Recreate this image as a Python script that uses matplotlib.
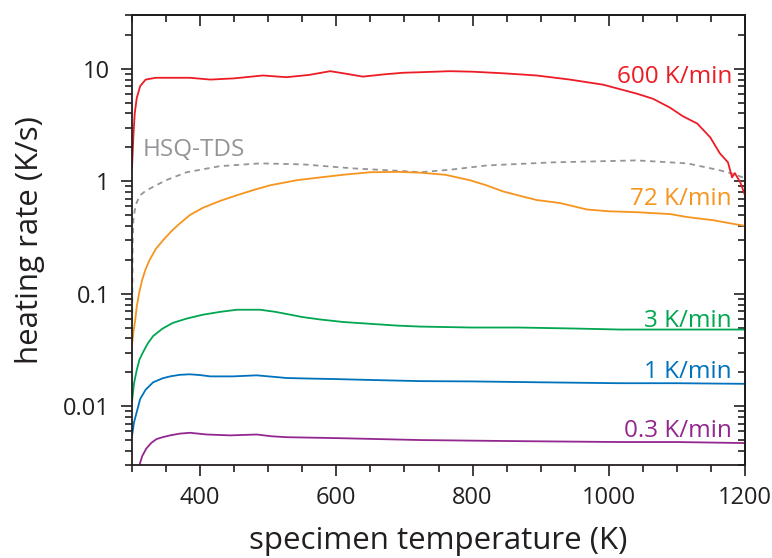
import matplotlib
matplotlib.use("Agg")
import matplotlib.pyplot as plt
from matplotlib.ticker import LogLocator, NullFormatter, FixedLocator

plt.rcParams['font.family'] = ['Open Sans', 'DejaVu Sans']

# ---- data ----
red_T = [300, 302, 304, 307, 312, 320, 335, 350, 385, 415, 450, 492, 527, 560, 591, 615, 639, 670, 698, 723,
         767, 800, 845, 894, 943, 992, 1041, 1065, 1090, 1109, 1130, 1149, 1163, 1175, 1181, 1185, 1193, 1200]
red_V = [1.3, 2.5, 4.0, 5.5, 7.0, 8.0, 8.3, 8.3, 8.3, 8.0, 8.2, 8.7, 8.4, 8.8, 9.5, 9.0, 8.5, 8.9, 9.2, 9.3,
         9.5, 9.4, 9.1, 8.7, 8.0, 7.2, 6.0, 5.4, 4.5, 3.77, 3.25, 2.45, 1.77, 1.47, 1.08, 1.18, 0.98, 0.75]

gray_T = [300, 300.5, 301, 302, 304, 307, 312, 320, 331, 350, 380, 429, 488, 551, 624, 698, 723, 770, 821,
          918, 1041, 1115, 1163, 1185, 1200]
gray_V = [0.03, 0.1, 0.3, 0.45, 0.55, 0.65, 0.75, 0.82, 0.89, 1.02, 1.2, 1.36, 1.44, 1.41, 1.30, 1.23, 1.2,
          1.27, 1.38, 1.47, 1.53, 1.44, 1.25, 1.15, 1.06]

orange_T = [300, 302, 305, 307, 311, 315, 320, 326, 335, 346, 358, 370, 385, 404, 430, 454, 480, 503, 542,
            576, 610, 649, 690, 723, 760, 796, 820, 845, 870, 894, 928, 968, 1000, 1041, 1090, 1115, 1153, 1200]
orange_V = [0.035, 0.045, 0.06, 0.077, 0.105, 0.133, 0.165, 0.2, 0.25, 0.30, 0.36, 0.42, 0.50, 0.58, 0.67,
            0.75, 0.84, 0.92, 1.02, 1.08, 1.14, 1.2, 1.21, 1.19, 1.14, 1.02, 0.92, 0.81, 0.74, 0.68, 0.64,
            0.56, 0.54, 0.53, 0.51, 0.48, 0.45, 0.40]

green_T = [300, 303, 307, 311, 316, 323, 331, 345, 360, 380, 404, 430, 454, 488, 510, 527, 550, 576, 610,
           649, 690, 723, 800, 870, 950, 1016, 1100, 1200]
green_V = [0.011, 0.016, 0.021, 0.026, 0.030, 0.036, 0.042, 0.049, 0.055, 0.060, 0.065, 0.069, 0.072,
           0.072, 0.069, 0.066, 0.062, 0.059, 0.056, 0.054, 0.052, 0.051, 0.050, 0.050, 0.049, 0.048,
           0.048, 0.048]

blue_T = [300, 303, 307, 312, 320, 331, 345, 356, 370, 385, 400, 415, 448, 483, 505, 527, 560, 601, 650,
          723, 800, 900, 1016, 1100, 1200]
blue_V = [0.0054, 0.0072, 0.0089, 0.0116, 0.0140, 0.0163, 0.0177, 0.0184, 0.0190, 0.0192, 0.0189,
          0.0184, 0.0184, 0.0188, 0.0183, 0.0178, 0.0176, 0.0174, 0.0171, 0.0167, 0.0166, 0.0163,
          0.0160, 0.0160, 0.0158]

purple_T = [311, 315, 321, 328, 336, 345, 356, 370, 385, 410, 444, 483, 505, 527, 601, 723, 850, 1016,
            1100, 1200]
purple_V = [0.003, 0.0036, 0.0042, 0.0047, 0.0051, 0.0053, 0.0055, 0.0057, 0.0058, 0.0056, 0.0055,
            0.0056, 0.0054, 0.0053, 0.0052, 0.0050, 0.0049, 0.0048, 0.0048, 0.0047]

labels = ["600 K/min", "72 K/min", "3 K/min", "1 K/min", "0.3 K/min"]
label_V = [7.52, 0.613, 0.051, 0.0177, 0.00532]
label_T = 1181
hsq_label = "HSQ-TDS"

x_ticks = [400, 600, 800, 1000, 1200]
y_ticks = [0.01, 0.1, 1, 10]
y_ticklabels = ["0.01", "0.1", "1", "10"]

RED = "#ED1C24"
ORANGE = "#F7941D"
GREEN = "#00A651"
BLUE = "#0072BC"
PURPLE = "#92278F"
GRAY = "#939598"
INK = "#231F20"

fig = plt.figure(figsize=(7.72, 5.58), dpi=100)
ax = fig.add_axes([132/772, 1-465/558, (745-132)/772, (465-15)/558])

lw = 1.3
ax.plot(gray_T, gray_V, color=GRAY, lw=1.3, linestyle=(0, (3, 2.5)))
ax.plot(orange_T, orange_V, color=ORANGE, lw=lw)
ax.plot(green_T, green_V, color=GREEN, lw=lw)
ax.plot(blue_T, blue_V, color=BLUE, lw=lw)
ax.plot(purple_T, purple_V, color=PURPLE, lw=lw)
ax.plot(red_T, red_V, color=RED, lw=lw)

ax.set_yscale('log')
ax.set_xlim(300, 1200)
ax.set_ylim(0.003, 30)

ax.set_xticks(x_ticks)
ax.set_xticklabels([str(t) for t in x_ticks])
ax.xaxis.set_minor_locator(FixedLocator(list(range(300, 1201, 50))))
ax.set_yticks(y_ticks)
ax.set_yticklabels(y_ticklabels)
ax.yaxis.set_minor_locator(LogLocator(base=10, subs=range(2, 10), numticks=20))
ax.yaxis.set_minor_formatter(NullFormatter())

ax.tick_params(axis='both', which='major', direction='out', length=8, width=1.2, colors=INK,
               labelsize=17, labelcolor=INK)
ax.tick_params(axis='both', which='minor', direction='out', length=5, width=1.2, colors=INK)
ax.tick_params(axis='x', which='major', pad=7)
ax.tick_params(axis='y', which='major', pad=8)
for s in ax.spines.values():
    s.set_linewidth(1.3)
    s.set_color(INK)

# top and right inward ticks
sx = ax.secondary_xaxis('top')
sx.set_xticks(x_ticks)
sx.xaxis.set_minor_locator(FixedLocator(list(range(300, 1201, 50))))
sx.tick_params(axis='x', which='major', direction='in', length=8, width=1.2, colors=INK, labeltop=False)
sx.tick_params(axis='x', which='minor', direction='in', length=5, width=1.2, colors=INK)
sx.spines['top'].set_linewidth(1.3)

sy = ax.secondary_yaxis('right')
sy.set_yticks(y_ticks)
sy.yaxis.set_minor_locator(LogLocator(base=10, subs=range(2, 10), numticks=20))
sy.yaxis.set_minor_formatter(NullFormatter())
sy.tick_params(axis='y', which='major', direction='in', length=8, width=1.2, colors=INK, labelright=False)
sy.tick_params(axis='y', which='minor', direction='in', length=5, width=1.2, colors=INK)
sy.spines['right'].set_linewidth(1.3)

ax.set_xlabel("specimen temperature (K)", fontsize=22.5, color=INK, labelpad=12)
ax.set_ylabel("heating rate (K/s)", fontsize=22.5, color=INK, labelpad=13)

label_colors = [RED, ORANGE, GREEN, BLUE, PURPLE]
for txt, v, c in zip(labels, label_V, label_colors):
    ax.text(label_T, v, txt, color=c, fontsize=17.5, ha='right', va='baseline')
ax.text(316, 1.66, hsq_label, color=GRAY, fontsize=17.5, ha='left', va='baseline')

fig.savefig("out.png", dpi=100)
